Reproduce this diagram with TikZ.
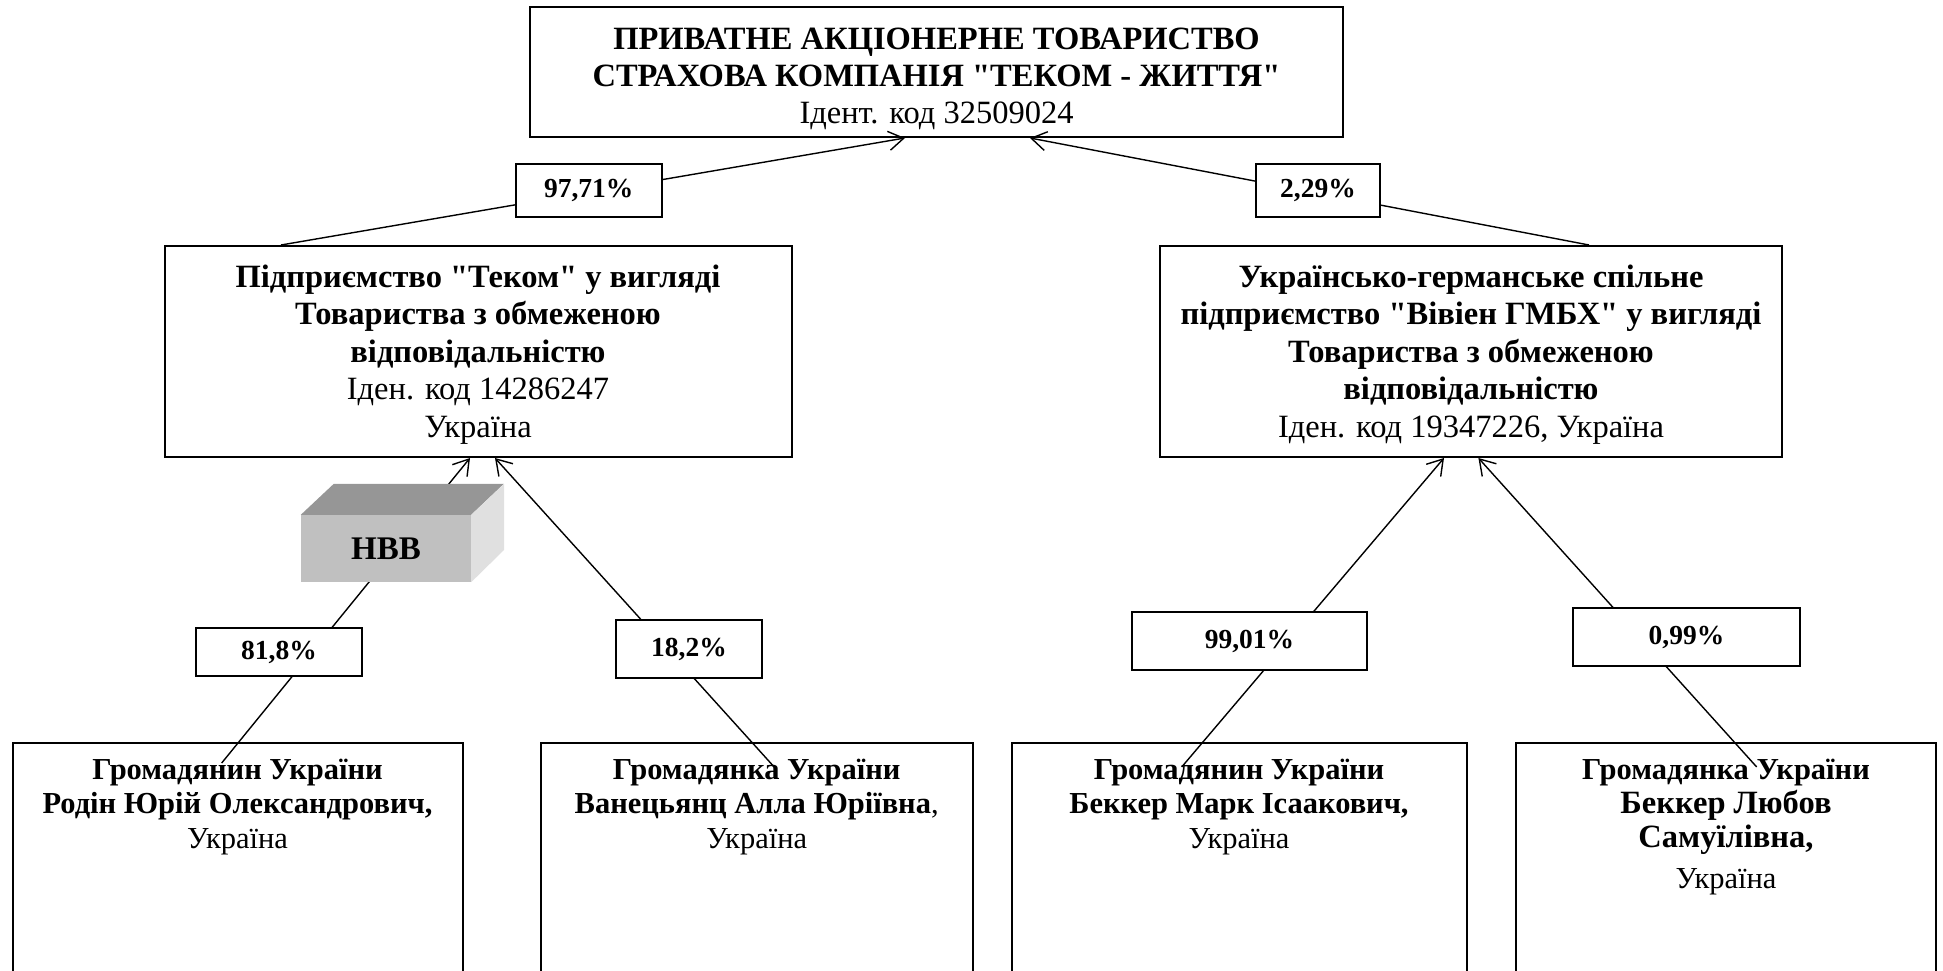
\documentclass[tikz,border=0pt]{standalone}
\usepackage{fontspec}
\setmainfont{Liberation Serif}[Ligatures=TeXOff]
\usetikzlibrary{arrows.meta,backgrounds}
\definecolor{hbbtop}{HTML}{969696}
\definecolor{hbbfront}{HTML}{C0C0C0}
\definecolor{hbbside}{HTML}{E0E0E0}
\begin{document}
\begin{tikzpicture}[x=1pt,y=-1pt,
  box/.style={draw, line width=2pt, align=center, inner sep=0pt, font=\fontsize{32.5}{37.5}\selectfont},
  pct/.style={draw, line width=2pt, fill=white, inner sep=0pt, font=\bfseries\fontsize{27.5}{33}\selectfont},
  person/.style={draw, line width=2pt, anchor=north, minimum height=320pt, inner sep=0pt},
  ptext/.style={anchor=north, align=center, inner sep=0pt, font=\fontsize{30.5}{34}\selectfont},
  link/.style={line width=1.4pt, -{Straight Barb[length=15pt,width=19pt]}}
]
\useasboundingbox (0,0) rectangle (1943,971);
\clip (0,0) rectangle (1943,971);

% main boxes
\node[box, minimum width=813pt, minimum height=130pt, font=\fontsize{32.5}{37}\selectfont] (top) at (936.5,72)
  {\rule{0pt}{36pt}\textbf{ПРИВАТНЕ АКЦІОНЕРНЕ ТОВАРИСТВО}\\\textbf{СТРАХОВА КОМПАНІЯ "ТЕКОМ - ЖИТТЯ"}\\Ідент. код 32509024};
\node[box, minimum width=627pt, minimum height=211pt] (tekom) at (478,351.5)
  {\rule{0pt}{28pt}\textbf{Підприємство "Теком" у вигляді}\\\textbf{Товариства з обмеженою}\\\textbf{відповідальністю}\\Іден. код 14286247\\Україна};
\node[box, minimum width=622pt, minimum height=211pt] (viv) at (1471,351.5)
  {\rule{0pt}{28pt}\textbf{Українсько-германське спільне}\\\textbf{підприємство "Вівіен ГМБХ" у вигляді}\\\textbf{Товариства з обмеженою}\\\textbf{відповідальністю}\\Іден. код 19347226, Україна};

% persons
\node[person, minimum width=450pt] (rodin) at (237.5,742) {};
\node[person, minimum width=432pt] (vanec) at (756.7,742) {};
\node[person, minimum width=455pt] (bekM) at (1239,742) {};
\node[person, minimum width=420pt] (bekL) at (1726,742) {};
\node[ptext] (rodinT) at (237.5,759) {\textbf{Громадянин України}\\\textbf{Родін Юрій Олександрович,}\\[1pt]Україна};
\node[ptext] (vanecT) at (756.7,759) {\textbf{Громадянка України}\\\textbf{Ванецьянц Алла Юріївна},\\[1pt]Україна};
\node[ptext] (bekMT) at (1239,759) {\textbf{Громадянин України}\\\textbf{Беккер Марк Ісаакович,}\\[1pt]Україна};
\node[ptext] (bekLT) at (1726,759) {\textbf{Громадянка України}\\{\fontsize{32.5}{36}\selectfont\textbf{Беккер Любов}}\\{\fontsize{32.5}{36}\selectfont\textbf{Самуїлівна,}}\\[7pt]Україна};

% percentage labels
\node[pct, minimum width=146.5pt, minimum height=53pt] (p1) at (588.8,190.8) {97,71\%};
\node[pct, minimum width=124pt, minimum height=53pt] (p2) at (1318,190.5) {2,29\%};
\node[pct, minimum width=166pt, minimum height=48pt] (p3) at (279,652) {81,8\%};
\node[pct, minimum width=146pt, minimum height=58pt] (p4) at (689,649) {18,2\%};
\node[pct, minimum width=235pt, minimum height=58pt] (p5) at (1249.5,641) {99,01\%};
\node[pct, minimum width=227pt, minimum height=58.5pt] (p6) at (1686.5,637) {0,99\%};

% HBB block
\node[fill=hbbfront, minimum width=170pt, minimum height=67pt, inner sep=0pt,
      font=\bfseries\fontsize{33}{33}\selectfont] (hbb) at (386,548.5) {НВВ};
\fill[hbbtop] (hbb.north west) -- ++(33,-31) -- ++(170,0) -- (hbb.north east) -- cycle;
\fill[hbbside] (hbb.north east) -- ++(33,-31) -- ++(0,66) -- (hbb.south east) -- cycle;

% connectors
\begin{pgfonlayer}{background}
\draw[link] ([xshift=117.5pt]tekom.north west) -- ([xshift=376pt]top.south west);
\draw[link] ([xshift=430pt]viv.north west) -- ([xshift=501pt]top.south west);
\draw[link] ([xshift=-15.8pt,yshift=-21pt]rodin.north) -- ([xshift=306.5pt]tekom.south west);
\draw[link] ([xshift=16.6pt,yshift=-24pt]vanec.north) -- ([xshift=331.5pt]tekom.south west);
\draw[link] ([xshift=-57.3pt,yshift=-25pt]bekM.north) -- ([xshift=285pt]viv.south west);
\draw[link] ([xshift=30.7pt,yshift=-25pt]bekL.north) -- ([xshift=319.4pt]viv.south west);
\end{pgfonlayer}
\end{tikzpicture}
\end{document}
